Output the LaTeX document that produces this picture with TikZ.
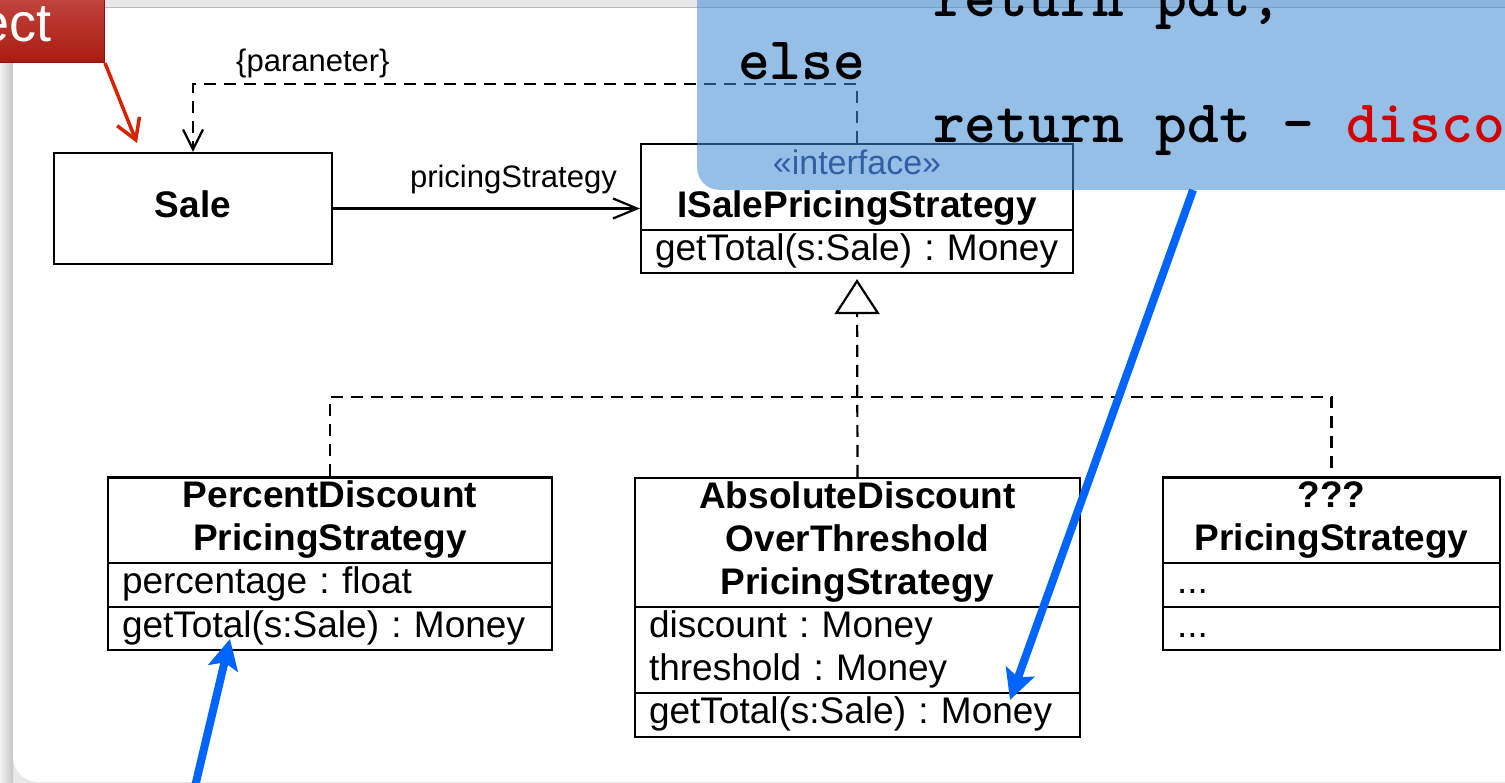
\documentclass[tikz,border=0pt]{standalone}
\usepackage{fontspec}
\setmainfont{Liberation Sans}
\usetikzlibrary{arrows.meta}
\definecolor{overlaycol}{RGB}{64,140,213}
\definecolor{arrowblue}{RGB}{0,100,255}
\definecolor{codered}{RGB}{210,0,0}
\definecolor{redtop}{RGB}{205,90,85}
\definecolor{redbot}{RGB}{170,28,18}
\definecolor{redarrow}{RGB}{215,35,0}
\definecolor{stereo}{RGB}{33,40,107}
\newcommand{\uf}{\fontsize{37}{43}\selectfont\frenchspacing}
\tikzset{
  box/.style={draw, line width=2.2pt, inner sep=0pt, fill=white, font=\uf},
  hdr/.style={box, align=center, font=\uf\bfseries},
  row/.style={box, align=left, inner xsep=14pt, inner ysep=0pt},
  dep/.style={line width=2.2pt, dash pattern=on 12pt off 8pt},
  plain/.style={line width=2.2pt},
  lbl/.style={font=\fontsize{31}{36}\selectfont\frenchspacing, inner sep=0pt},
  bluearrow/.style={arrowblue, line width=8pt, -{Stealth[length=30pt, width=30pt, inset=6pt]}},
  codetext/.style={font=\ttfamily\bfseries\fontsize{60.5}{60.5}\selectfont, inner sep=0pt, anchor=base west},
}
\begin{document}
\begin{tikzpicture}[x=1pt,y=-1pt]
\useasboundingbox (0,0) rectangle (1505,783);
\clip (0,0) rectangle (1505,783);
% background panel
\fill[gray!18] (0,0) rectangle (1505,783);
\shade[left color=gray!10, right color=gray!45] (0,0) rectangle (13,783);
\fill[white, rounded corners=25pt] (13,7) rectangle (1560,782);
\draw[gray!55, line width=1pt] (13,7.5) -- (1505,7.5);

% UML classes
\node[box, minimum width=278pt, minimum height=111pt, font=\uf\bfseries] (sale) at (193,208.5) {\strut Sale};
\node[hdr, minimum width=432pt, minimum height=86pt] (isaleH) at (857,187)
  {{\color{stereo}\fontsize{34}{43}\selectfont\mdseries\strut «interface»}\\\strut ISalePricingStrategy};
\node[row, text width=404pt, minimum height=43pt] (isaleO) at (857,251.5) {\strut getTotal(s:Sale) : Money};

\node[hdr, minimum width=444pt, minimum height=85pt] (pdH) at (330,520.5) {\strut PercentDiscount\\\strut PricingStrategy};
\node[row, text width=416pt, minimum height=44pt] (pdA) at (330,585) {\strut percentage : float};
\node[row, text width=416pt, minimum height=43pt] (pdO) at (330,628.5) {\strut getTotal(s:Sale) : Money};

\node[hdr, minimum width=445pt, minimum height=129pt] (absH) at (857.5,542.5) {\strut AbsoluteDiscount\\\strut OverThreshold\\\strut PricingStrategy};
\node[row, text width=417pt, minimum height=86pt] (absA) at (857.5,650) {\strut discount : Money\\\strut threshold : Money};
\node[row, text width=417pt, minimum height=44pt] (absO) at (857.5,715) {\strut getTotal(s:Sale) : Money};

\node[hdr, minimum width=337pt, minimum height=85pt] (qH) at (1331.5,520.5) {\strut ???\\\strut PricingStrategy};
\node[row, text width=309pt, minimum height=44pt] (qA) at (1331.5,585) {\strut ...};
\node[row, text width=309pt, minimum height=43pt] (qO) at (1331.5,628.5) {\strut ...};

% connectors
\draw[plain, -{Straight Barb[length=24pt, width=20pt]}] (sale.east) -- (sale.east -| isaleH.west);
\node[lbl, anchor=base east] (assoclbl) at (617,188) {pricingStrategy};
\draw[dep, -{Straight Barb[length=20pt, width=20pt]}] (isaleH.north) -- ++(0,-59) -| (sale.north);
\node[lbl, anchor=base west] (deplbl) at (236,72) {\{paraneter\}};
\coordinate (junction) at (857.5,397);
\draw[dep, -{Triangle[open, length=35pt, width=45pt]}, shorten >=5pt] (absH.north) -- (isaleO.south);
\draw[dep] (pdH.north) |- (junction) -| (qH.north);

% translucent code overlay
\node[fill=overlaycol, fill opacity=0.55, rounded corners=22pt, minimum width=900pt, minimum height=260pt, anchor=south west, inner sep=0pt] (codebox) at (697,190) {};
\node[codetext] (c1) at (933,17) {return pdt;};
\node[codetext] (c2) at (738,80) {else};
\node[codetext] (c3) at (933,143) {return pdt - \textcolor{codered}{disco}};

% blue arrows
\coordinate (b1s) at (1193,190);
\coordinate (b1t) at (1010,700);
\draw[bluearrow] (b1s) -- (b1t);
\coordinate (b2s) at (193,795);
\coordinate (b2t) at (230,639);
\draw[bluearrow] (b2s) -- (b2t);

% red callout
\node[anchor=south east, minimum width=200pt, minimum height=100pt, top color=redtop, bottom color=redbot, inner sep=0pt, draw=redbot!80!black, line width=1pt] (callout) at (105,63) {};
\node[white, font=\fontsize{54}{54}\selectfont, anchor=base east, inner sep=0pt] (calltext) at (52,42) {ect};
\coordinate (redtip) at (137,143);
\draw[redarrow, line width=3.5pt, -{Straight Barb[length=20pt, width=24pt]}] (callout.south east) -- (redtip);
\end{tikzpicture}
\end{document}
